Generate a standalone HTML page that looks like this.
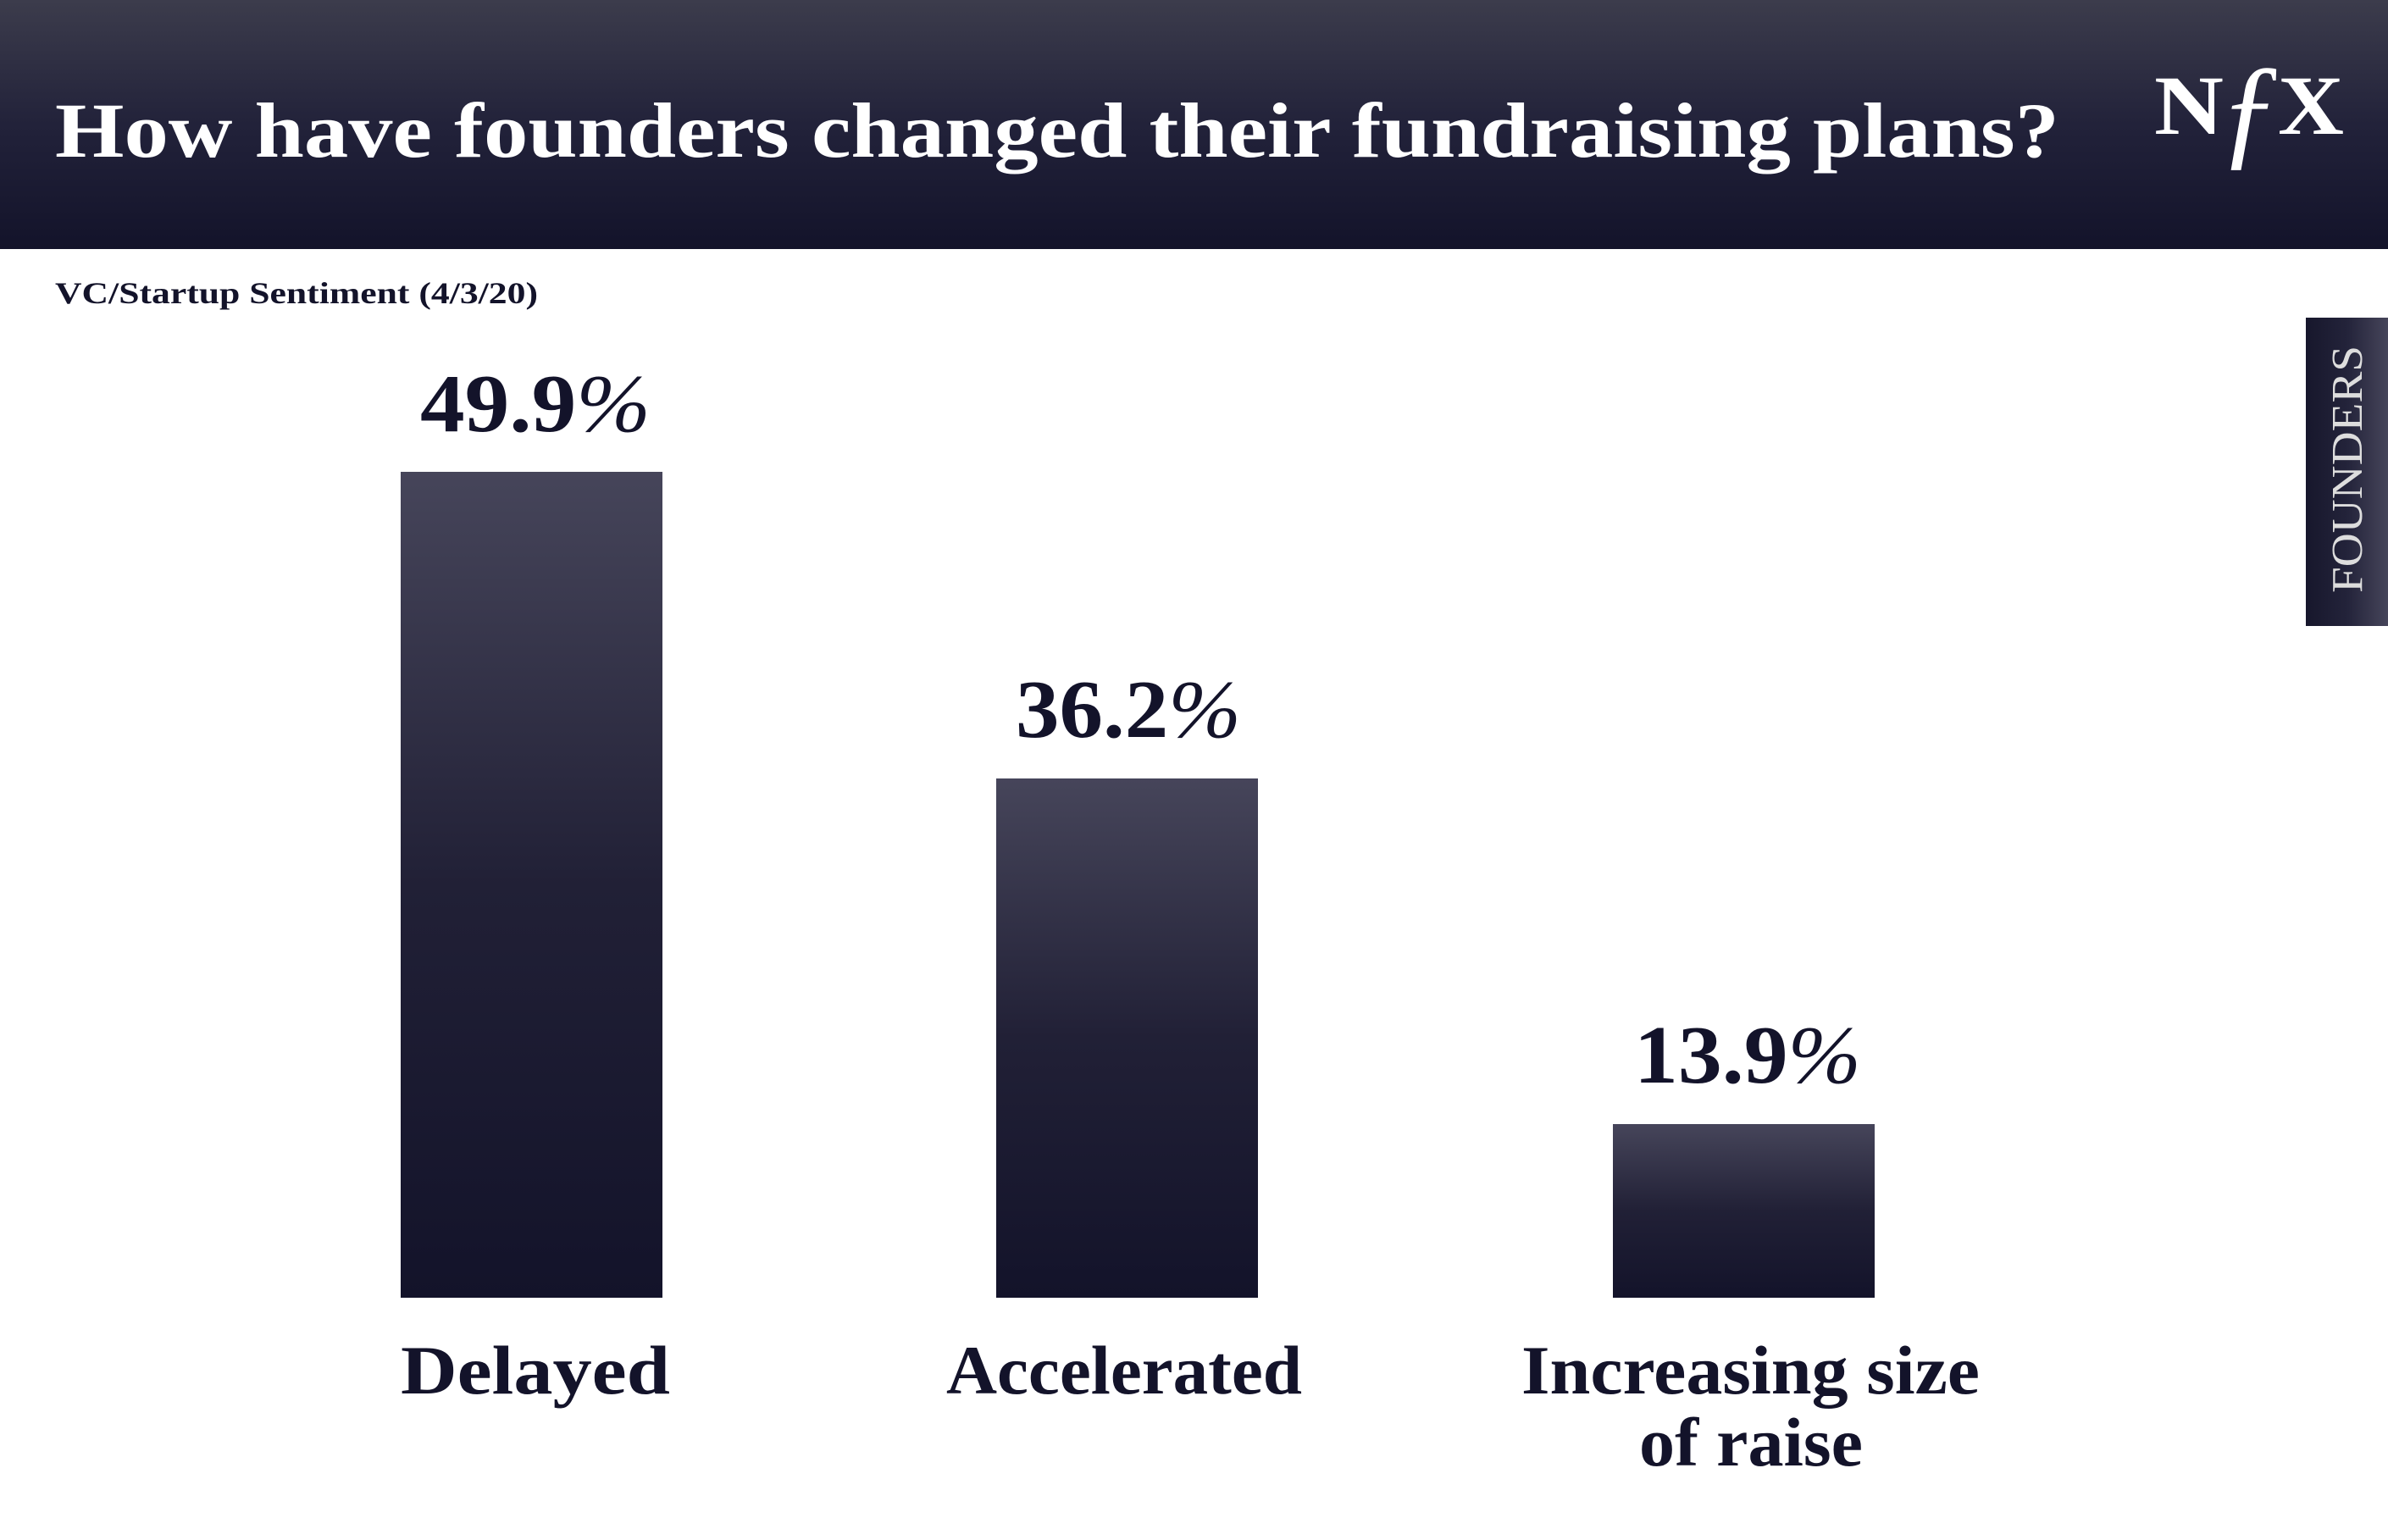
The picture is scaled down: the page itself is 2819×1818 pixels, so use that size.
<!DOCTYPE html>
<html><head><meta charset="utf-8"><style>html,body{margin:0;padding:0;background:#fff}svg{display:block}</style></head>
<body>
<svg width="2819" height="1818" viewBox="0 0 2819 1818" xmlns="http://www.w3.org/2000/svg">
<defs>
<linearGradient id="hd" x1="0" y1="0" x2="0" y2="1"><stop offset="0" stop-color="#3c3c4c"/><stop offset="0.5" stop-color="#22223a"/><stop offset="1" stop-color="#13132a"/></linearGradient>
<linearGradient id="bar" x1="0" y1="0" x2="0" y2="1"><stop offset="0" stop-color="#46455a"/><stop offset="0.5" stop-color="#212036"/><stop offset="1" stop-color="#13132a"/></linearGradient>
<linearGradient id="tab" x1="0" y1="0" x2="1" y2="0"><stop offset="0" stop-color="#17172c"/><stop offset="0.5" stop-color="#23233a"/><stop offset="1" stop-color="#46455a"/></linearGradient>
</defs>
<rect x="0" y="0" width="2819" height="294" fill="url(#hd)"/>
<g font-family="'Liberation Serif', serif" font-weight="bold">
<text x="65" y="185" font-size="92" fill="#fff" textLength="2366" lengthAdjust="spacingAndGlyphs">How have founders changed their fundraising plans?</text>
<text x="2543" y="158" font-size="100" fill="#fff" textLength="82" lengthAdjust="spacingAndGlyphs">N</text>
<text x="2618" y="180" font-size="150" fill="#fff" font-style="italic" font-weight="normal">ƒ</text>
<text x="2689" y="158" font-size="100" fill="#fff" textLength="78" lengthAdjust="spacingAndGlyphs">X</text>
<text x="65" y="358" font-size="36" fill="#13132a" textLength="570" lengthAdjust="spacingAndGlyphs">VC/Startup Sentiment (4/3/20)</text>
</g>
<rect x="2722" y="375" width="97" height="364" fill="url(#tab)"/>
<text transform="translate(2788,700) rotate(-90)" font-family="'Liberation Serif', serif" font-size="52" fill="#ddd" textLength="292" lengthAdjust="spacingAndGlyphs">FOUNDERS</text>
<rect x="473" y="557" width="309" height="975" fill="url(#bar)"/>
<rect x="1176" y="919" width="309" height="613" fill="url(#bar)"/>
<rect x="1904" y="1327" width="309" height="205" fill="url(#bar)"/>
<g font-family="'Liberation Serif', serif" font-weight="bold" fill="#13132a">
<text x="496" y="509" font-size="98" textLength="272" lengthAdjust="spacingAndGlyphs">49.9<tspan font-weight="normal" font-style="italic">%</tspan></text>
<text x="1199" y="870" font-size="98" textLength="266" lengthAdjust="spacingAndGlyphs">36.2<tspan font-weight="normal" font-style="italic">%</tspan></text>
<text x="1929" y="1278" font-size="98" textLength="268" lengthAdjust="spacingAndGlyphs">13.9<tspan font-weight="normal" font-style="italic">%</tspan></text>
<text x="473" y="1645" font-size="82" textLength="318" lengthAdjust="spacingAndGlyphs">Delayed</text>
<text x="1117" y="1645" font-size="82" textLength="420" lengthAdjust="spacingAndGlyphs">Accelerated</text>
<text x="1796" y="1645" font-size="82" textLength="541" lengthAdjust="spacingAndGlyphs">Increasing size</text>
<text x="1935" y="1730" font-size="82" textLength="264" lengthAdjust="spacingAndGlyphs">of raise</text>
</g>
</svg>
</body></html>
